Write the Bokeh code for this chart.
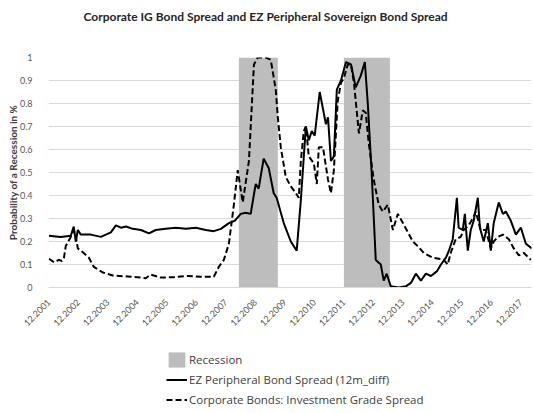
import math
from bokeh.plotting import figure
from bokeh.layouts import column, row
from bokeh.models import FixedTicker, Range1d, Legend, LegendItem, Spacer, Title
from bokeh.embed import file_html
from bokeh.resources import INLINE

TITLE = "Corporate IG Bond Spread and EZ Peripheral Sovereign Bond Spread"

# Tick labels (month.year) and their decimal-year positions
tick_labels = ["12.%d" % y for y in range(2001, 2018)]
tick_pos = [y + 11 / 12 for y in range(2001, 2018)]

# Recession periods (decimal years)
rec_start = [2008.36, 2011.92]
rec_end = [2009.68, 2013.48]

# EZ Peripheral Bond Spread (12m_diff)
ez_t = [2001.92, 2002.32, 2002.66, 2002.76, 2002.83, 2002.90, 2003.00, 2003.34, 2003.68, 2003.85,
        2004.02, 2004.19, 2004.36, 2004.53, 2004.76, 2005.04, 2005.31, 2005.54, 2005.88, 2006.22,
        2006.56, 2006.90, 2007.24, 2007.51, 2007.75, 2008.02, 2008.22, 2008.42, 2008.59, 2008.76,
        2008.93, 2009.03, 2009.20, 2009.37, 2009.54, 2009.64, 2009.88, 2010.12, 2010.22, 2010.32,
        2010.46, 2010.63, 2010.73, 2010.83, 2010.93, 2011.10, 2011.31, 2011.38, 2011.48, 2011.58,
        2011.68, 2011.82, 2011.99, 2012.16, 2012.32, 2012.49, 2012.63, 2012.73, 2012.86, 2013.00,
        2013.17, 2013.27, 2013.37, 2013.51, 2013.78, 2014.02, 2014.19, 2014.36, 2014.53, 2014.70,
        2014.87, 2015.07, 2015.21, 2015.38, 2015.48, 2015.61, 2015.75, 2015.81, 2015.95, 2016.02,
        2016.12, 2016.22, 2016.32, 2016.46, 2016.53, 2016.66, 2016.80, 2016.90, 2017.00, 2017.17,
        2017.31, 2017.41, 2017.58, 2017.75, 2017.92, 2018.09, 2018.29]
ez_v = [0.225, 0.22, 0.225, 0.265, 0.20, 0.25, 0.23, 0.23, 0.22, 0.23,
        0.24, 0.27, 0.26, 0.265, 0.255, 0.25, 0.235, 0.25, 0.255, 0.26,
        0.255, 0.26, 0.25, 0.245, 0.255, 0.28, 0.29, 0.32, 0.325, 0.32,
        0.45, 0.43, 0.56, 0.52, 0.41, 0.39, 0.28, 0.20, 0.18, 0.16,
        0.38, 0.70, 0.64, 0.68, 0.66, 0.85, 0.71, 0.74, 0.55, 0.57,
        0.86, 0.90, 0.98, 0.97, 0.87, 0.92, 0.98, 0.80, 0.50, 0.12,
        0.10, 0.03, 0.06, 0.005, 0.0, 0.005, 0.02, 0.06, 0.03, 0.06,
        0.05, 0.07, 0.10, 0.13, 0.16, 0.21, 0.39, 0.26, 0.25, 0.32,
        0.16, 0.25, 0.29, 0.39, 0.26, 0.20, 0.28, 0.16, 0.28, 0.37,
        0.32, 0.33, 0.29, 0.23, 0.26, 0.19, 0.17]

# Corporate Bonds: Investment Grade Spread
ig_t = [2001.92, 2002.09, 2002.26, 2002.36, 2002.43, 2002.49, 2002.66, 2002.76, 2002.83, 2002.90,
        2003.10, 2003.27, 2003.44, 2003.75, 2004.09, 2004.59, 2005.04, 2005.20, 2005.37, 2005.71,
        2006.15, 2006.63, 2007.07, 2007.51, 2007.68, 2007.85, 2008.02, 2008.19, 2008.32, 2008.49,
        2008.70, 2008.87, 2009.00, 2009.27, 2009.44, 2009.61, 2009.68, 2009.78, 2009.95, 2010.12,
        2010.29, 2010.39, 2010.46, 2010.56, 2010.63, 2010.73, 2010.90, 2011.00, 2011.07, 2011.21,
        2011.38, 2011.48, 2011.58, 2011.71, 2011.82, 2011.92, 2012.05, 2012.16, 2012.26, 2012.43,
        2012.56, 2012.66, 2012.76, 2012.93, 2013.10, 2013.24, 2013.41, 2013.58, 2013.75, 2013.92,
        2014.09, 2014.26, 2014.42, 2014.63, 2014.93, 2015.14, 2015.31, 2015.44, 2015.54, 2015.71,
        2015.88, 2015.98, 2016.15, 2016.29, 2016.39, 2016.56, 2016.73, 2016.90, 2017.00, 2017.14,
        2017.31, 2017.51, 2017.68, 2017.85, 2018.02, 2018.26]
ig_v = [0.125, 0.11, 0.12, 0.115, 0.13, 0.18, 0.22, 0.25, 0.22, 0.17,
        0.15, 0.13, 0.09, 0.065, 0.052, 0.048, 0.043, 0.04, 0.056, 0.043,
        0.045, 0.05, 0.047, 0.047, 0.09, 0.12, 0.19, 0.36, 0.51, 0.37,
        0.55, 0.97, 1.0, 1.0, 0.99, 0.86, 0.74, 0.61, 0.48, 0.44,
        0.41, 0.39, 0.55, 0.68, 0.70, 0.57, 0.54, 0.45, 0.61, 0.61,
        0.47, 0.41, 0.51, 0.81, 0.89, 0.91, 0.97, 0.97, 0.89, 0.67,
        0.77, 0.76, 0.63, 0.47, 0.36, 0.33, 0.36, 0.25, 0.32, 0.28,
        0.24, 0.20, 0.18, 0.15, 0.13, 0.125, 0.12, 0.10, 0.15, 0.21,
        0.22, 0.25, 0.27, 0.30, 0.33, 0.25, 0.25, 0.17, 0.20, 0.22,
        0.23, 0.21, 0.17, 0.14, 0.15, 0.12]

FONT = "Lato"
LEGEND_FONT = "Open Sans"
REC_COLOR = "#bdbdbd"
DASH = "6 3"

p = figure(width=532, height=340, output_backend="svg", toolbar_location=None,
           x_range=Range1d(2001.905, 2018.28), y_range=Range1d(0, 1.0),
           min_border_left=48, min_border_right=1, min_border_top=57, min_border_bottom=53,
           title=None)
p.outline_line_color = None
p.background_fill_color = "white"
p.border_fill_color = "white"

# spacer (blank) title next to the frame, then the real title above it
p.add_layout(Title(text=" ", text_font_size="10px", standoff=21), "above")
p.add_layout(Title(text=TITLE, text_font=FONT, text_font_size="12px", text_font_style="bold",
                   text_color="#262626", align="left", offset=35, standoff=0), "above")

p.quad(left=rec_start, right=rec_end, bottom=0, top=1.0, fill_color=REC_COLOR, line_color=None)
p.line(ez_t, ez_v, line_color="black", line_width=2)
p.line(ig_t, ig_v, line_color="black", line_width=2, line_dash=DASH)

p.xgrid.grid_line_color = None
p.ygrid.grid_line_color = "#d9d9d9"
p.yaxis.ticker = FixedTicker(ticks=[i / 10 for i in range(11)])
p.yaxis.major_label_overrides = {i / 10: ("0" if i == 0 else ("1" if i == 10 else "0.%d" % i)) for i in range(11)}
p.yaxis.axis_line_color = None
p.yaxis.major_tick_line_color = None
p.yaxis.minor_tick_line_color = None
p.yaxis.major_label_text_font = FONT
p.yaxis.major_label_text_font_size = "9px"
p.yaxis.major_label_text_color = "#595959"
p.yaxis.major_label_standoff = 10
p.yaxis.axis_label = "Probability of a Recession in %"
p.yaxis.axis_label_text_font = FONT
p.yaxis.axis_label_text_font_size = "10px"
p.yaxis.axis_label_text_font_style = "bold"
p.yaxis.axis_label_text_color = "#404040"
p.yaxis.axis_label_standoff = -2

p.xaxis.ticker = FixedTicker(ticks=tick_pos)
p.xaxis.major_label_overrides = {t: l for t, l in zip(tick_pos, tick_labels)}
p.xaxis.major_label_orientation = math.pi / 4
p.xaxis.axis_line_color = "#d9d9d9"
p.xaxis.major_tick_line_color = None
p.xaxis.minor_tick_line_color = None
p.xaxis.major_label_text_font = FONT
p.xaxis.major_label_text_font_size = "9px"
p.xaxis.major_label_text_color = "#595959"
p.xaxis.major_label_standoff = 7

# Legend panel (own small figure below the chart; its renderers are hidden, only the keys show)
q = figure(width=300, height=69, output_backend="svg", toolbar_location=None,
           x_range=Range1d(0, 1), y_range=Range1d(0, 1),
           x_axis_location=None, y_axis_location=None,
           min_border=0, min_border_left=0, min_border_right=0, min_border_top=0, min_border_bottom=0)
q.outline_line_color = None
q.xgrid.visible = False
q.ygrid.visible = False
q_rec = q.quad(left=rec_start, right=rec_end, bottom=0, top=1.0, fill_color=REC_COLOR, line_color=None, visible=False)
q_ez = q.line(ez_t, ez_v, line_color="black", line_width=2, visible=False)
q_ig = q.line(ig_t, ig_v, line_color="black", line_width=2, line_dash=DASH, visible=False)

legend = Legend(items=[LegendItem(label="Recession", renderers=[q_rec]),
                       LegendItem(label="EZ Peripheral Bond Spread (12m_diff)", renderers=[q_ez]),
                       LegendItem(label="Corporate Bonds: Investment Grade Spread", renderers=[q_ig])],
                location="bottom_left", orientation="vertical")
legend.border_line_color = None
legend.background_fill_alpha = 0
legend.padding = 0
legend.margin = 0
legend.spacing = 1
legend.label_height = 19
legend.glyph_height = 19
legend.glyph_width = 21
legend.label_standoff = 2
legend.label_text_font = LEGEND_FONT
legend.label_text_font_size = "11.5px"
legend.label_text_color = "#404040"
legend.inactive_fill_alpha = 0
q.add_layout(legend, "center")

layout = column(p, row(Spacer(width=166, height=69), q, spacing=0), spacing=0)
open("out.html", "w").write(file_html(layout, INLINE))
